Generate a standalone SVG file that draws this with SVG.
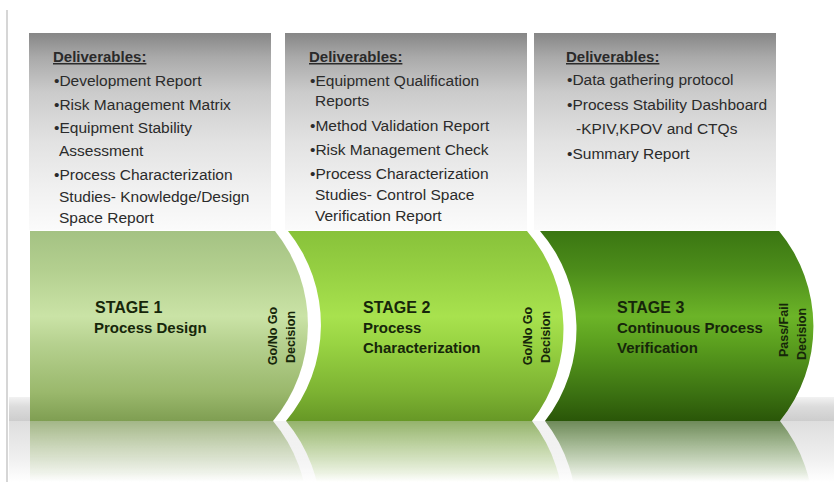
<svg xmlns="http://www.w3.org/2000/svg" xmlns:xlink="http://www.w3.org/1999/xlink" width="834" height="482" viewBox="0 0 834 482">
  <defs>
    <style>
      text { font-family: "Liberation Sans", Arial, sans-serif; }
      .title { font-size: 15px; font-weight: bold; fill: #2a2a2a; text-decoration: underline; }
      .item { font-size: 15.5px; fill: #2b2b2b; }
      .stage { font-size: 16px; font-weight: bold; fill: #16260a; }
      .name { font-size: 15px; font-weight: bold; fill: #16260a; }
      .gate { font-size: 12.5px; font-weight: bold; fill: #16260a; text-anchor: middle; }
      .box { fill: url(#boxGrad); }
    </style>

    <!-- grey deliverables panels: dark at the top, fading to white -->
    <linearGradient id="boxGrad" x1="0" y1="33" x2="0" y2="230" gradientUnits="userSpaceOnUse">
      <stop offset="0" stop-color="#868686"/>
      <stop offset="0.12" stop-color="#a9a9a9"/>
      <stop offset="0.3" stop-color="#cbcbcb"/>
      <stop offset="0.55" stop-color="#e2e2e2"/>
      <stop offset="0.8" stop-color="#f1f1f1"/>
      <stop offset="1" stop-color="#fbfbfb"/>
    </linearGradient>

    <!-- stage band fills -->
    <linearGradient id="g1" x1="0" y1="231" x2="0" y2="421" gradientUnits="userSpaceOnUse">
      <stop offset="0" stop-color="#a4c283"/>
      <stop offset="0.2" stop-color="#b3cf8f"/>
      <stop offset="0.45" stop-color="#cae3a6"/>
      <stop offset="0.6" stop-color="#b5d08e"/>
      <stop offset="0.85" stop-color="#9ab86c"/>
      <stop offset="1" stop-color="#7f9e52"/>
    </linearGradient>
    <linearGradient id="g2" x1="0" y1="231" x2="0" y2="421" gradientUnits="userSpaceOnUse">
      <stop offset="0" stop-color="#88c23a"/>
      <stop offset="0.2" stop-color="#95cf42"/>
      <stop offset="0.45" stop-color="#a8e24e"/>
      <stop offset="0.6" stop-color="#98d342"/>
      <stop offset="0.85" stop-color="#7cb232"/>
      <stop offset="1" stop-color="#679826"/>
    </linearGradient>
    <linearGradient id="g3" x1="0" y1="231" x2="0" y2="421" gradientUnits="userSpaceOnUse">
      <stop offset="0" stop-color="#3a7612"/>
      <stop offset="0.2" stop-color="#4c8c1a"/>
      <stop offset="0.45" stop-color="#6cb428"/>
      <stop offset="0.6" stop-color="#5a9e1e"/>
      <stop offset="0.85" stop-color="#3c7212"/>
      <stop offset="1" stop-color="#2a5608"/>
    </linearGradient>

    <!-- floor behind the bands and below them -->
    <linearGradient id="floorTop" x1="0" y1="397" x2="0" y2="421" gradientUnits="userSpaceOnUse">
      <stop offset="0" stop-color="#f2f2f2"/>
      <stop offset="0.4" stop-color="#dcdcdc"/>
      <stop offset="1" stop-color="#cdcdcd"/>
    </linearGradient>
    <linearGradient id="floorBottom" x1="0" y1="421" x2="0" y2="482" gradientUnits="userSpaceOnUse">
      <stop offset="0" stop-color="#dedede"/>
      <stop offset="0.6" stop-color="#efefef"/>
      <stop offset="1" stop-color="#ffffff"/>
    </linearGradient>

    <!-- fade for the mirrored bands -->
    <linearGradient id="fade" x1="0" y1="421" x2="0" y2="482" gradientUnits="userSpaceOnUse">
      <stop offset="0" stop-color="#fff" stop-opacity="0.62"/>
      <stop offset="0.85" stop-color="#fff" stop-opacity="0.12"/>
      <stop offset="1" stop-color="#fff" stop-opacity="0"/>
    </linearGradient>
    <mask id="reflMask" maskUnits="userSpaceOnUse" x="0" y="421" width="834" height="61">
      <rect x="0" y="421" width="834" height="61" fill="url(#fade)"/>
    </mask>

    <!-- band shapes shared by the bands and their reflection -->
    <g id="bands">
      <path d="M30,231 L779,231 A150,150 0 0 1 780,421 L30,421 Z" fill="#ffffff"/>
      <path d="M30,231 L275,231 A150,150 0 0 1 273,421 L30,421 Z" fill="url(#g1)"/>
      <path d="M288,231 L527,231 A150,150 0 0 1 532,421 L286,421 A150,150 0 0 0 288,231 Z" fill="url(#g2)"/>
      <path d="M540,231 L779,231 A150,150 0 0 1 780,421 L545,421 A150,150 0 0 0 540,231 Z" fill="url(#g3)"/>
    </g>
  </defs>

  <rect width="834" height="482" fill="#ffffff"/>

  <!-- page edge -->
  <line x1="7" y1="10" x2="7" y2="482" stroke="#d6d6d6" stroke-width="2"/>

  <!-- floor -->
  <rect x="9" y="397" width="825" height="24" fill="url(#floorTop)"/>
  <rect x="9" y="421" width="825" height="61" fill="url(#floorBottom)"/>

  <!-- reflection of the bands -->
  <g mask="url(#reflMask)">
    <use xlink:href="#bands" href="#bands" transform="matrix(1,0,0,-1,0,842)"/>
  </g>

  <!-- deliverables panels -->
  <g id="deliverables-1">
    <rect class="box" x="29" y="33" width="242" height="197"/>
    <text class="title" x="53" y="62">Deliverables:</text>
    <text class="item" x="54" y="86">•Development Report</text>
    <text class="item" x="54" y="110">•Risk Management Matrix</text>
    <text class="item" x="54" y="133">•Equipment Stability</text>
    <text class="item" x="59" y="156">Assessment</text>
    <text class="item" x="54" y="180">•Process Characterization</text>
    <text class="item" x="59" y="202">Studies- Knowledge/Design</text>
    <text class="item" x="59" y="223">Space Report</text>
  </g>

  <g id="deliverables-2">
    <rect class="box" x="285" y="33" width="242" height="197"/>
    <text class="title" x="309" y="62">Deliverables:</text>
    <text class="item" x="310" y="86">•Equipment Qualification</text>
    <text class="item" x="315" y="106">Reports</text>
    <text class="item" x="310" y="131">•Method Validation Report</text>
    <text class="item" x="310" y="155">•Risk Management Check</text>
    <text class="item" x="310" y="179">•Process Characterization</text>
    <text class="item" x="315" y="200">Studies- Control Space</text>
    <text class="item" x="315" y="221">Verification Report</text>
  </g>

  <g id="deliverables-3">
    <rect class="box" x="534" y="33" width="242" height="197"/>
    <text class="title" x="566" y="62">Deliverables:</text>
    <text class="item" x="567" y="85">•Data gathering protocol</text>
    <text class="item" x="567" y="110">•Process Stability Dashboard</text>
    <text class="item" x="576" y="134">-KPIV,KPOV and CTQs</text>
    <text class="item" x="567" y="159">•Summary Report</text>
  </g>

  <!-- stage bands -->
  <use xlink:href="#bands" href="#bands"/>

  <g id="stage-1">
    <text class="stage" x="95" y="313">STAGE 1</text>
    <text class="name" x="94" y="333">Process Design</text>
    <text class="gate" transform="translate(277,336) rotate(-90)">Go/No Go</text>
    <text class="gate" transform="translate(295,337) rotate(-90)">Decision</text>
  </g>

  <g id="stage-2">
    <text class="stage" x="363" y="313">STAGE 2</text>
    <text class="name" x="363" y="333">Process</text>
    <text class="name" x="363" y="353">Characterization</text>
    <text class="gate" transform="translate(532,336) rotate(-90)">Go/No Go</text>
    <text class="gate" transform="translate(550,337) rotate(-90)">Decision</text>
  </g>

  <g id="stage-3">
    <text class="stage" x="617" y="313">STAGE 3</text>
    <text class="name" x="617" y="333">Continuous Process</text>
    <text class="name" x="617" y="353">Verification</text>
    <text class="gate" transform="translate(788,330) rotate(-90)">Pass/Fail</text>
    <text class="gate" transform="translate(806,334) rotate(-90)">Decision</text>
  </g>
</svg>
